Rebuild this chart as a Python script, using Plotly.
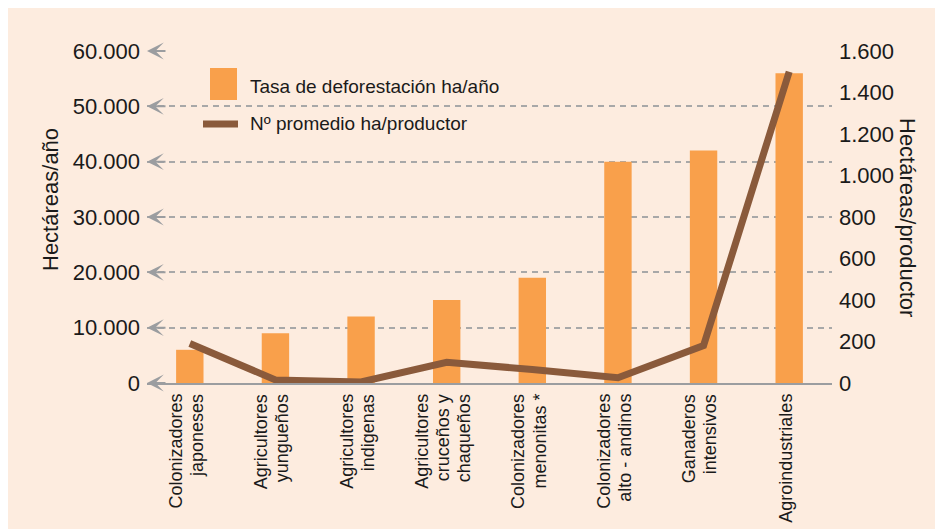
import plotly.graph_objects as go

# Data
categorias = [
    ["Colonizadores", "japoneses"],
    ["Agricultores", "yungueños"],
    ["Agricultores", "indigenas"],
    ["Agricultores", "cruceños y", "chaqueños"],
    ["Colonizadores", "menonitas *"],
    ["Colonizadores", "alto - andinos"],
    ["Ganaderos", "intensivos"],
    ["Agroindustriales"],
]
tasa_deforestacion = [6000, 9000, 12000, 15000, 19000, 40000, 42000, 56000]
promedio_ha_productor = [190, 15, 5, 100, 65, 25, 180, 1500]

ticks_izq = [0, 10000, 20000, 30000, 40000, 50000, 60000]
ticks_der = [0, 200, 400, 600, 800, 1000, 1200, 1400, 1600]

nombre_barras = "Tasa de deforestación ha/año"
nombre_linea = "Nº promedio ha/productor"
titulo_izq = "Hectáreas/año"
titulo_der = "Hectáreas/productor"

# Colours / fonts
FONDO = "#FDECDF"
NARANJA = "#F9A04B"
MARRON = "#8A5A3B"
GRIS = "#9B9DA0"
FUENTE = "Liberation Sans, Arial, sans-serif"
TEXTO = "#1a1a1a"

# the page puts the figure 8px in from the top-left corner
OFF = 8
W, H = 943, 529
L, R, T, B = 139, 119, 43, 154
pw, ph = W - L - R, H - T - B


def px_x(p):
    return (p - OFF - L) / pw


def px_y(p):
    return (H - B - (p - OFF)) / ph


x = list(range(len(categorias)))

fig = go.Figure()
fig.add_trace(go.Bar(x=x, y=tasa_deforestacion, name=nombre_barras,
                     marker=dict(color=NARANJA, line=dict(width=0)),
                     width=0.32, showlegend=False))
fig.add_trace(go.Scatter(x=x, y=promedio_ha_productor, name=nombre_linea,
                         mode="lines", yaxis="y2",
                         line=dict(color=MARRON, width=7),
                         showlegend=False))

annotations = []

# category labels, one annotation per line to keep lines tight
for i, lineas in enumerate(categorias):
    n = len(lineas)
    for j, t in enumerate(lineas):
        annotations.append(dict(
            x=i, xref="x", y=0, yref="paper", yanchor="top", xanchor="center",
            yshift=-9, xshift=-4 + (j - (n - 1) / 2) * 21.5,
            text=t, textangle=-90, showarrow=False,
            font=dict(family=FUENTE, size=18, color=TEXTO)))

# notched arrow heads at the left end of every grid line
for v in ticks_izq:
    annotations.append(dict(
        x=0, xref="paper", y=v, yref="y", ax=20, ay=0, text="",
        showarrow=True, arrowhead=3, arrowsize=1.4, arrowwidth=2,
        arrowcolor=GRIS))

# axis titles
annotations.append(dict(x=px_x(50), xref="paper", xanchor="center",
                        y=px_y(200), yref="paper", yanchor="middle",
                        text=titulo_izq, textangle=-90, showarrow=False,
                        font=dict(family=FUENTE, size=22, color=TEXTO)))
annotations.append(dict(x=px_x(908), xref="paper", xanchor="center",
                        y=px_y(218), yref="paper", yanchor="middle",
                        text=titulo_der, textangle=90, showarrow=False,
                        font=dict(family=FUENTE, size=22, color=TEXTO)))

# legend texts
annotations.append(dict(x=px_x(248), xref="paper", xanchor="left",
                        y=px_y(86), yref="paper", yanchor="middle",
                        text=nombre_barras, showarrow=False,
                        font=dict(family=FUENTE, size=19, color=TEXTO)))
annotations.append(dict(x=px_x(248), xref="paper", xanchor="left",
                        y=px_y(123), yref="paper", yanchor="middle",
                        text=nombre_linea, showarrow=False,
                        font=dict(family=FUENTE, size=19, color=TEXTO)))

shapes = [
    # legend symbols
    dict(type="rect", xref="paper", yref="paper",
         x0=px_x(210), x1=px_x(237), y0=px_y(68), y1=px_y(100),
         fillcolor=NARANJA, line=dict(width=0)),
    dict(type="line", xref="paper", yref="paper",
         x0=px_x(203), x1=px_x(238), y0=px_y(124), y1=px_y(124),
         line=dict(color=MARRON, width=7)),
]

fig.update_layout(
    width=W, height=H,
    margin=dict(l=L, r=R, t=T, b=B),
    paper_bgcolor=FONDO, plot_bgcolor=FONDO,
    separators=",.",
    font=dict(family=FUENTE, size=22, color=TEXTO),
    annotations=annotations,
    shapes=shapes,
    xaxis=dict(range=[-0.5, len(categorias) - 0.5], showticklabels=False,
               showgrid=False, zeroline=False, showline=True,
               linecolor=GRIS, linewidth=2, ticks=""),
    yaxis=dict(range=[0, 60000], tickvals=ticks_izq, tickformat=",",
               showgrid=True, gridcolor="#A8A8A8", gridwidth=1.5,
               griddash="6px,5px", zeroline=False, showline=False,
               ticks="", ticklabelstandoff=6),
    yaxis2=dict(range=[0, 1600], tickvals=ticks_der, tickformat=",",
                overlaying="y", side="right", showgrid=False,
                zeroline=False, showline=False, ticks="",
                ticklabelstandoff=6),
)

fig.write_html("out.html")
